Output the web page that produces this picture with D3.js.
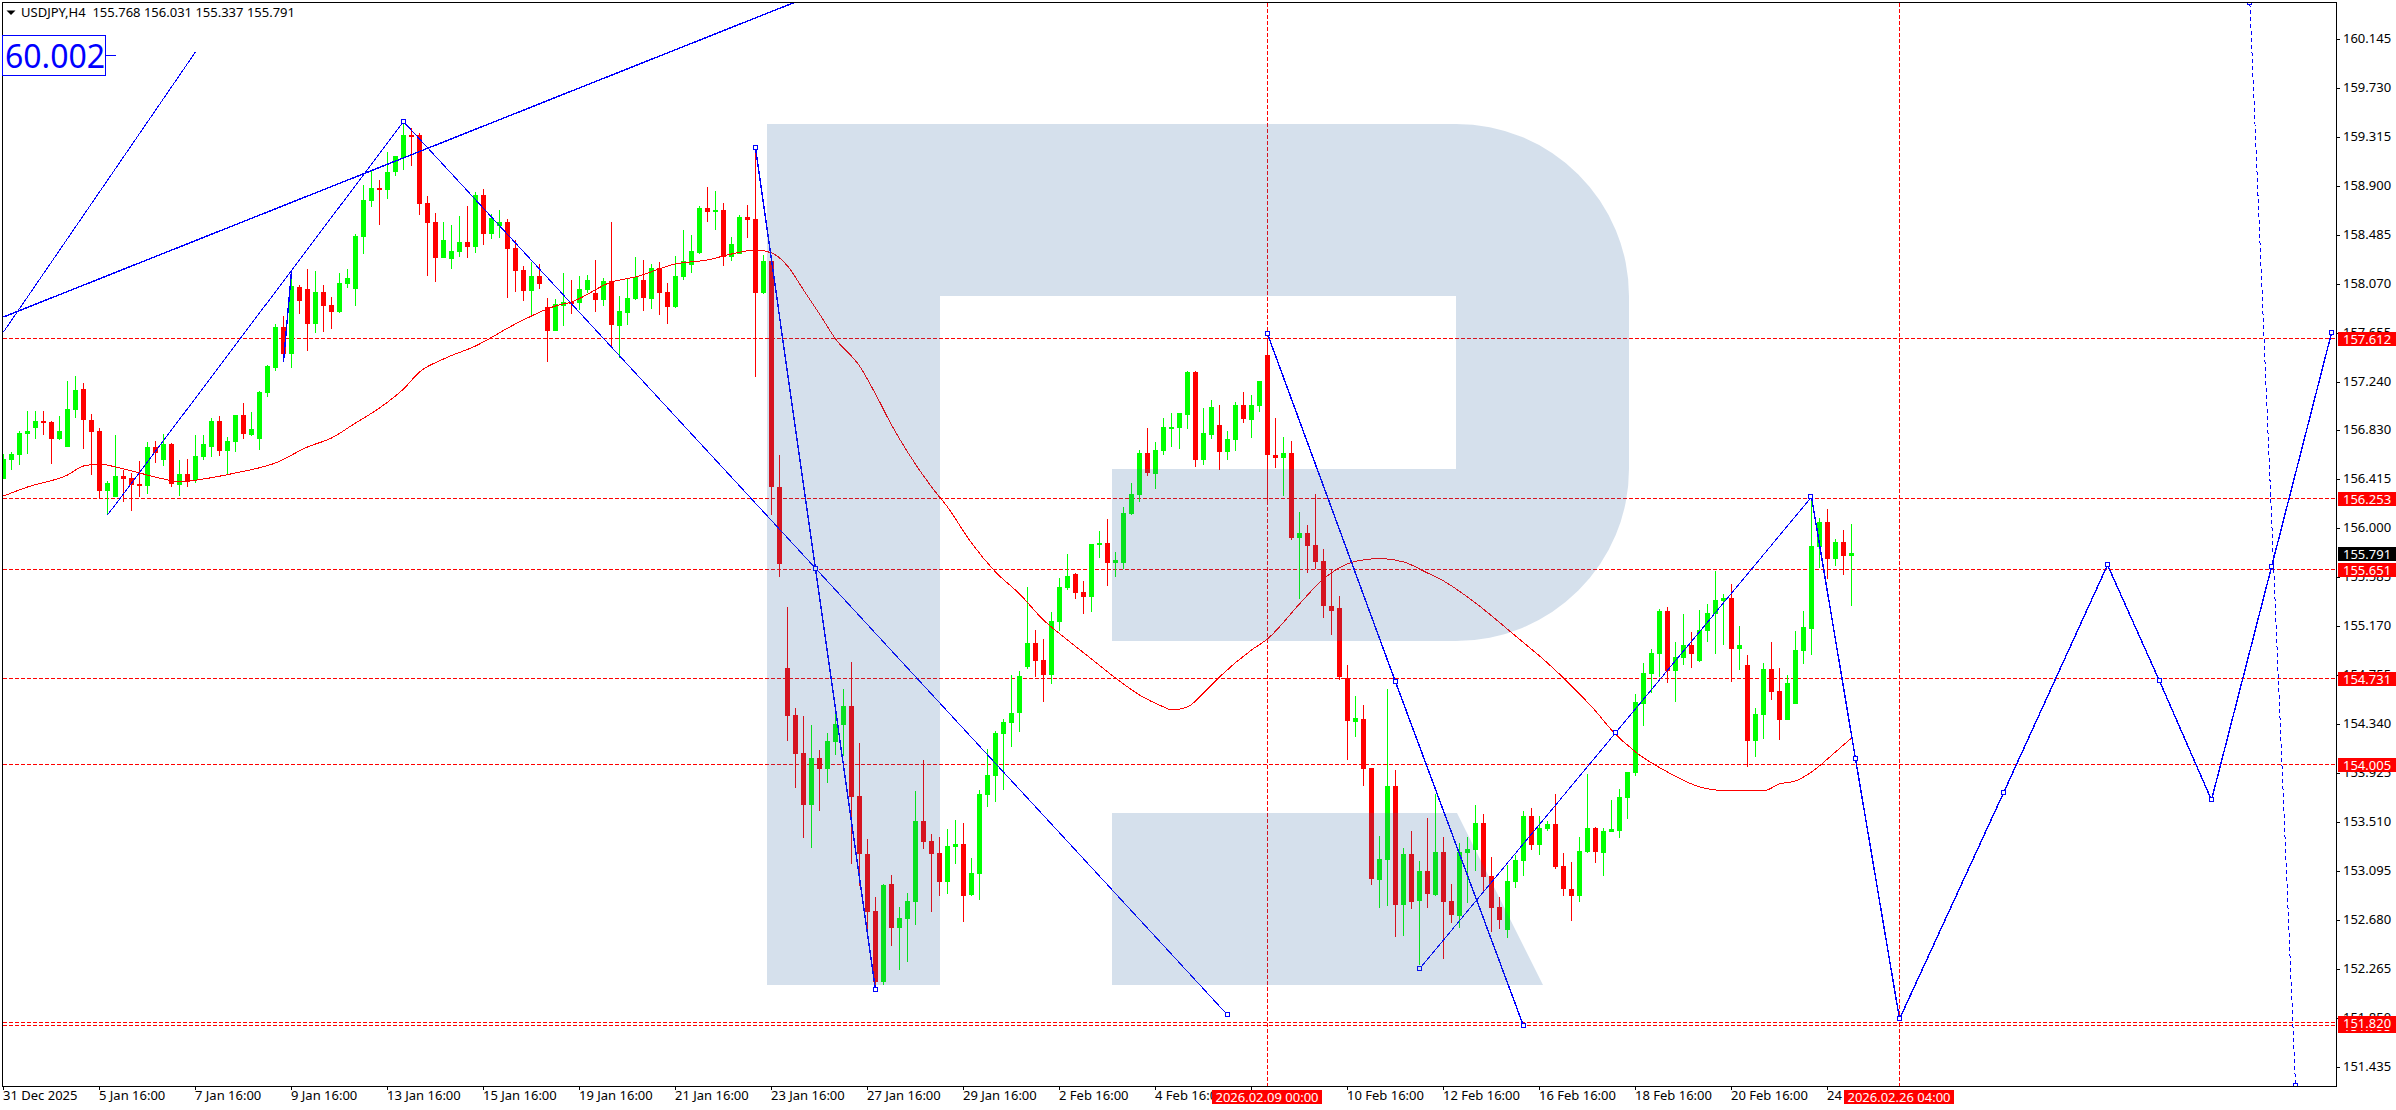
<!DOCTYPE html>
<html><head><meta charset="utf-8">
<script src="https://cdn.jsdelivr.net/npm/d3@7"></script>
<style>html,body{margin:0;padding:0;background:#fff;overflow:hidden}svg{display:block}text{font-family:"Noto Sans",sans-serif;font-size:13px}</style>
</head><body><svg id="c" width="2396" height="1110"></svg>
<script>
const symbolHeader = "USDJPY,H4  155.768 156.031 155.337 155.791";
const opens = [156.417,156.580,156.620,156.798,156.848,156.908,156.899,156.755,156.687,157.001,
157.179,156.916,156.823,156.315,156.264,156.442,156.425,156.374,156.357,156.687,
156.577,156.713,156.366,156.459,156.408,156.603,156.687,156.908,156.654,156.730,
156.958,156.789,156.755,157.145,157.356,157.703,157.474,158.041,158.025,157.728,
157.999,157.889,157.830,158.067,158.025,158.465,158.770,158.880,158.863,159.015,
159.134,159.328,159.328,158.753,158.592,158.287,158.279,158.338,158.422,158.380,
158.820,158.490,158.558,158.592,158.372,158.185,158.008,158.135,157.872,157.669,
157.881,157.915,157.906,158.016,157.991,157.931,158.092,157.711,157.821,157.940,
158.101,157.940,158.202,157.999,157.872,158.126,158.228,158.329,158.710,158.676,
158.693,158.296,158.321,158.634,158.617,157.991,158.262,156.349,154.815,154.417,
154.096,153.655,154.053,153.960,154.189,154.333,154.494,153.732,153.241,152.758,
152.157,152.987,152.614,152.690,152.834,153.520,153.351,153.249,153.004,153.300,
153.325,152.894,153.071,153.740,153.901,154.257,154.350,154.434,154.824,155.027,
154.884,154.757,155.205,155.494,155.612,155.460,155.418,155.858,155.875,155.705,
155.705,156.120,156.281,156.637,156.459,156.654,156.848,156.848,156.958,157.322,
156.577,156.789,156.874,156.645,156.747,157.043,156.916,157.035,157.466,156.620,
156.594,156.637,155.917,155.959,155.858,155.722,155.341,155.324,154.731,154.358,
154.384,153.969,153.021,153.190,153.817,152.809,153.241,152.843,153.097,152.894,
153.258,152.843,152.716,153.249,153.275,153.503,153.055,152.792,152.597,153.004,
153.182,153.563,153.317,153.453,153.495,153.139,152.945,152.885,153.258,153.461,
153.249,153.427,153.436,153.715,153.927,154.511,154.765,154.934,155.298,154.790,
154.900,155.010,154.875,155.129,155.273,155.383,155.408,154.977,154.841,154.198,
154.418,154.807,154.621,154.375,154.511,154.960,155.146,155.840,156.052,155.739,
155.882,155.768];
const closes = [156.586,156.628,156.806,156.823,156.908,156.891,156.755,156.823,157.009,157.170,
156.916,156.814,156.315,156.383,156.442,156.417,156.366,156.357,156.687,156.637,
156.713,156.374,156.459,156.391,156.611,156.713,156.908,156.654,156.738,156.958,
156.798,156.840,157.153,157.373,157.703,157.474,158.050,157.923,157.728,157.999,
157.881,157.830,158.075,158.118,158.473,158.778,158.880,158.863,159.015,159.151,
159.328,159.320,158.744,158.583,158.287,158.439,158.346,158.422,158.380,158.820,
158.490,158.626,158.592,158.363,158.177,158.008,158.135,158.067,157.669,157.898,
157.915,157.898,158.025,158.101,157.931,158.092,157.720,157.838,157.948,158.126,
157.948,158.202,157.991,157.872,158.135,158.262,158.346,158.710,158.676,158.693,
158.296,158.406,158.634,158.609,157.991,158.262,156.349,155.697,154.409,154.087,
153.655,154.053,153.960,154.197,154.341,154.494,153.723,153.241,152.750,152.157,
152.978,152.614,152.699,152.843,153.520,153.342,153.241,153.004,153.308,153.325,
152.885,153.080,153.749,153.909,154.265,154.358,154.434,154.748,155.027,154.875,
154.757,155.214,155.502,155.595,155.451,155.418,155.866,155.875,155.705,155.731,
156.129,156.290,156.637,156.467,156.662,156.857,156.857,156.975,157.322,156.577,
156.806,157.026,156.645,156.755,157.043,156.925,157.043,157.246,156.620,156.594,
156.637,155.917,155.959,155.849,155.714,155.341,155.299,154.740,154.367,154.392,
153.961,153.029,153.199,153.817,152.809,153.241,152.835,153.097,152.902,153.258,
152.835,152.725,153.258,153.283,153.503,153.046,152.784,152.682,153.012,153.190,
153.563,153.317,153.461,153.495,153.131,152.945,152.885,153.266,153.461,153.258,
153.436,153.453,153.723,153.935,154.528,154.773,154.943,155.298,154.790,154.909,
155.010,154.934,155.137,155.281,155.391,155.408,154.977,155.010,154.198,154.426,
154.807,154.613,154.375,154.689,154.968,155.163,155.849,156.052,155.739,155.882,
155.764,155.791];
const highs = [156.628,156.645,156.823,156.992,156.992,156.992,156.908,156.950,157.246,157.289,
157.229,156.967,156.848,156.400,156.789,156.493,156.467,156.569,156.730,156.738,
156.798,156.721,156.577,156.586,156.789,156.789,156.933,156.950,156.772,156.958,
157.060,156.984,157.162,157.382,157.728,157.796,158.185,158.058,158.194,158.177,
158.058,157.957,158.160,158.194,158.490,158.905,159.032,158.947,159.184,159.151,
159.421,159.388,159.345,158.812,158.668,158.592,158.566,158.643,158.727,158.846,
158.871,158.660,158.693,158.617,158.439,158.219,158.253,158.236,157.948,157.940,
158.160,158.101,158.135,158.143,158.270,158.118,158.592,157.965,158.109,158.296,
158.270,158.236,158.253,158.075,158.304,158.524,158.482,158.727,158.888,158.854,
158.753,158.465,158.651,158.736,159.190,158.313,158.262,156.620,155.332,154.477,
154.409,154.333,154.121,154.265,154.434,154.638,154.866,154.180,153.368,152.877,
152.987,153.063,152.792,152.910,153.774,154.036,153.410,153.385,153.452,153.528,
153.503,153.207,153.782,154.130,154.282,154.384,154.756,154.790,155.501,155.137,
155.062,155.290,155.580,155.782,155.621,155.553,155.866,155.976,156.078,155.799,
156.179,156.383,156.662,156.848,156.730,156.933,156.975,156.975,157.331,157.331,
157.018,157.085,157.043,156.823,157.068,157.153,157.128,157.246,157.610,156.933,
156.772,156.738,156.137,156.027,156.290,155.824,155.646,155.426,154.841,154.579,
154.502,153.969,153.393,154.638,153.952,153.292,153.436,153.182,153.546,153.749,
153.385,152.987,153.334,153.385,153.656,153.580,153.215,152.877,153.148,153.232,
153.605,153.630,153.563,153.520,153.749,153.249,153.173,153.385,153.918,153.470,
153.461,153.698,153.791,153.935,154.596,154.858,154.977,155.315,155.332,155.036,
155.273,155.121,155.307,155.358,155.637,155.442,155.527,155.171,154.926,154.477,
154.858,155.036,154.816,154.756,155.129,155.298,156.266,156.086,156.162,155.908,
155.984,156.031];
const lows = [156.417,156.493,156.535,156.628,156.755,156.789,156.544,156.747,156.687,156.933,
156.671,156.450,156.247,156.109,156.264,156.222,156.146,156.264,156.290,156.552,
156.527,156.349,156.273,156.349,156.383,156.577,156.603,156.611,156.450,156.645,
156.755,156.781,156.662,157.111,157.330,157.415,157.356,157.813,157.500,157.652,
157.661,157.686,157.821,158.033,157.881,158.321,158.719,158.566,158.787,158.981,
159.032,159.066,158.651,158.135,158.084,158.287,158.194,158.296,158.287,158.329,
158.397,158.448,158.456,157.948,157.999,157.923,157.804,158.025,157.407,157.669,
157.711,157.813,157.847,157.991,157.830,157.881,157.534,157.440,157.720,157.931,
157.838,157.855,157.804,157.728,157.864,158.101,158.160,158.321,158.592,158.524,
158.219,158.262,158.321,158.456,157.280,157.983,156.112,155.587,154.197,153.799,
153.376,153.291,153.605,153.842,154.079,154.070,153.156,152.970,152.597,152.103,
152.132,152.462,152.259,152.326,152.640,153.283,152.750,152.885,152.902,153.156,
152.665,152.885,152.851,153.639,153.681,153.782,154.147,154.273,154.807,154.739,
154.528,154.681,155.129,155.477,155.401,155.274,155.291,155.748,155.511,155.587,
155.655,156.112,156.222,156.442,156.332,156.620,156.687,156.671,156.840,156.518,
156.535,156.755,156.493,156.577,156.654,156.891,156.764,156.984,156.196,156.510,
156.273,155.900,155.400,155.621,155.655,155.239,155.095,154.714,154.037,154.231,
153.817,152.978,152.784,152.801,152.538,152.547,152.775,152.301,152.784,152.885,
152.352,152.657,152.614,152.826,153.097,152.911,152.581,152.606,152.530,152.953,
153.055,153.275,153.232,153.436,153.114,152.885,152.674,152.835,153.249,153.165,
153.055,153.427,153.376,153.537,153.901,154.325,154.604,154.740,154.689,154.528,
154.841,154.816,154.867,155.036,154.934,155.010,154.697,154.799,153.978,154.062,
154.215,154.545,154.206,154.375,154.511,154.850,154.926,155.662,155.569,155.679,
155.603,155.337];
const maBars = [0,3,8,10,12,14,17,20,22,25,29,34,38,41,44,47,50,52,55,59,64,69,71,76,79,84,88,91,94,96,98,100,102,104,107,109,111,113,116,118,121,124,127,130,133,136,139,142,145,146,148,150,152,156,158,162,165,168,171,172,175,178,180,184,189,193,196,199,201,204,208,212,214,216,220,222,224,226,229,231];
const maValues = [156.272,156.348,156.450,156.526,156.543,156.518,156.467,156.416,156.391,156.416,156.467,156.552,156.687,156.763,156.890,157.017,157.178,157.322,157.432,157.542,157.729,157.881,157.915,158.084,158.127,158.237,158.271,158.321,158.355,158.330,158.220,158.017,157.813,157.602,157.373,157.136,156.874,156.645,156.349,156.179,155.874,155.629,155.443,155.222,155.053,154.892,154.731,154.587,154.486,154.460,154.486,154.604,154.740,154.968,155.062,155.358,155.570,155.697,155.739,155.743,155.714,155.620,155.553,155.366,155.087,154.858,154.664,154.452,154.291,154.105,153.935,153.809,153.783,153.775,153.775,153.834,153.859,153.935,154.105,154.223];
const levels = [157.612,156.253,155.651,154.731,154.005,151.820];
const lowerLevel = 151.795;
const currentPrice = 155.791;
const priceTicks = [160.145,159.730,159.315,158.900,158.485,158.070,157.655,157.240,156.830,156.415,156.000,155.585,155.170,154.755,154.340,153.925,153.510,153.095,152.680,152.265,151.850,151.435];
const timeTickBars = [0,12,24,36,48,60,72,84,96,108,120,132,144,156,168,180,192,204,216,228];
const timeTickLabels = ["31 Dec 2025","5 Jan 16:00","7 Jan 16:00","9 Jan 16:00","13 Jan 16:00","15 Jan 16:00","19 Jan 16:00","21 Jan 16:00","23 Jan 16:00","27 Jan 16:00","29 Jan 16:00","2 Feb 16:00","4 Feb 16:00","","10 Feb 16:00","12 Feb 16:00","16 Feb 16:00","18 Feb 16:00","20 Feb 16:00","24 Feb 16:00"];
const timeMarkerBars = [158,237];
const timeMarkerLabels = ["2026.02.09 00:00","2026.02.26 04:00"];
const ghostFan = {bars:[0,24],prices:[157.661,160.032]};
const trendLine = {bars:[0,99],prices:[157.788,160.455]};
const waveThinA = {bars:[13,50,153],prices:[156.111,159.442,151.878],marks:[1,2]};
const waveStub = {bars:[35,36],prices:[157.407,158.177],marks:[]};
const waveThickA = {bars:[94,101.5,109],prices:[159.219,155.654,152.090],marks:[0,1,2]};
const waveThickB = {bars:[158,174,190],prices:[157.644,154.698,151.785],marks:[0,1,2]};
const waveThinB = {bars:[177,201.5,226],prices:[152.268,154.266,156.264],marks:[0,1,2]};
const waveForecast = {bars:[226,231.5,237,250,263,269.5,276,283.5,291],prices:[156.264,154.046,151.844,153.758,155.688,154.706,153.698,155.671,157.652],marks:[0,1,2,3,4,5,6,7,8]};
const waveDashed = {bars:[280.8,286.5],prices:[160.447,151.277],marks:[0,1]};
const boxLabel = "60.002";

const W=2336,B=1086;
const svg=d3.select("#c");
const x=d3.scaleLinear().domain([0,231]).range([3.5,1851.5]);
const y=d3.scaleLinear().domain([160.145,151.435]).range([38.6,1067.25]);
const px=v=>Math.round(y(v));
svg.append("defs").append("clipPath").attr("id","plot").append("rect").attr("x",3).attr("y",3).attr("width",W-3).attr("height",B-3);
const plot=svg.append("g").attr("clip-path","url(#plot)");

// red levels
const dash="4,2";
plot.append("g").selectAll("line").data(levels.concat([lowerLevel])).join("line")
 .attr("x1",3).attr("x2",W).attr("y1",d=>px(d)+.5).attr("y2",d=>px(d)+.5)
 .attr("stroke","#ff0000").attr("stroke-dasharray",dash).attr("shape-rendering","crispEdges");
plot.append("g").selectAll("line").data(timeMarkerBars).join("line")
 .attr("x1",d=>x(d)).attr("x2",d=>x(d)).attr("y1",3).attr("y2",B)
 .attr("stroke","#ff0000").attr("stroke-dasharray",dash).attr("shape-rendering","crispEdges");

// candles
const idx=d3.range(opens.length);
const col=i=>closes[i]>=opens[i]?"#00ff00":"#ff0000";
const g=plot.append("g").attr("shape-rendering","crispEdges");
g.selectAll(".w").data(idx).join("rect").attr("x",i=>x(i)-.5).attr("width",1)
 .attr("y",i=>px(highs[i])).attr("height",i=>Math.max(1,px(lows[i])-px(highs[i]))).attr("fill",col);
g.selectAll(".b").data(idx).join("rect").attr("class","b").attr("x",i=>x(i)-2.5).attr("width",5)
 .attr("y",i=>px(Math.max(opens[i],closes[i])))
 .attr("height",i=>Math.max(2,px(Math.min(opens[i],closes[i]))-px(Math.max(opens[i],closes[i]))))
 .attr("fill",col);

// moving average
plot.append("path").datum(maBars).attr("fill","none").attr("stroke","#ff0000").attr("stroke-width",1)
 .attr("shape-rendering","crispEdges")
 .attr("d",d3.line().x(k=>x(k)).y((k,i)=>y(maValues[i])).curve(d3.curveMonotoneX));

// blue studies
function poly(o,w,dashed){
 const l=d3.line().x((k)=>x(k)).y((k,i)=>y(o.prices[i]));
 plot.append("path").datum(o.bars).attr("fill","none").attr("stroke","#0000ff").attr("stroke-width",w)
  .attr("shape-rendering","crispEdges")
  .attr("stroke-dasharray",dashed?"4,3":null).attr("d",l);
 (o.marks||[]).forEach(i=>{
  plot.append("rect").attr("x",Math.round(x(o.bars[i]))-2.5).attr("y",Math.round(y(o.prices[i]))-2.5)
   .attr("width",4).attr("height",4).attr("fill","#fff").attr("stroke","#0000ff").attr("shape-rendering","crispEdges");
 });
}
poly(ghostFan,1);poly(trendLine,1.4);poly(waveThinA,1);poly(waveStub,1.4);
poly(waveThickA,1.4);poly(waveThickB,1.4);poly(waveThinB,1);poly(waveForecast,1.4);poly(waveDashed,1,true);

// R watermark, painted over the chart with transparency
plot.append("path").attr("fill","rgb(45,100,160)").attr("fill-opacity",0.2)
 .attr("fill-rule","evenodd")
 .attr("d","M767,124H1456A173,172 0 0 1 1629,296V469A173,172 0 0 1 1456,641H1112V469H1456V296H940V985H767Z");
plot.append("path").attr("fill","rgb(45,100,160)").attr("fill-opacity",0.2)
 .attr("d","M1112,813H1457L1543,985H1112Z");

// frame
svg.append("rect").attr("x",2.5).attr("y",2.5).attr("width",W-2).attr("height",B-2)
 .attr("fill","none").attr("stroke","#000").attr("shape-rendering","crispEdges");

// price axis
const pa=svg.append("g");
pa.selectAll("line").data(priceTicks).join("line").attr("x1",W).attr("x2",W+4)
 .attr("y1",d=>px(d)+.5).attr("y2",d=>px(d)+.5).attr("stroke","#000").attr("shape-rendering","crispEdges");
pa.selectAll("text").data(priceTicks).join("text").attr("x",2343).attr("y",d=>px(d)+4)
 .attr("fill","#000").text(d=>d.toFixed(3));

// time axis
const ta=svg.append("g");
ta.selectAll("line").data(timeTickBars).join("line").attr("x1",d=>Math.floor(x(d))+.5).attr("x2",d=>Math.floor(x(d))+.5)
 .attr("y1",B).attr("y2",B+4).attr("stroke","#000").attr("shape-rendering","crispEdges");
ta.selectAll("text").data(timeTickLabels).join("text").attr("x",(d,i)=>x(timeTickBars[i])-.5).attr("y",1100)
 .attr("fill","#000").text(d=>d);

// price tags: the lower level's tag sits under the 151.820 tag
const tags=[{v:lowerLevel,bg:"#ff0000"}].concat(levels.map(v=>({v,bg:"#ff0000"}))).concat([{v:currentPrice,bg:"#000"}]);
const tg=svg.append("g").selectAll("g").data(tags).join("g").attr("transform",d=>`translate(2338,${px(d.v)-6})`);
tg.append("rect").attr("width",58).attr("height",14).attr("fill",d=>d.bg).attr("shape-rendering","crispEdges");
tg.append("text").attr("x",5).attr("y",11.5).attr("fill","#fff").text(d=>d.v.toFixed(3));

// time tags
const tm=svg.append("g").selectAll("g").data(timeMarkerBars).join("g").attr("transform",d=>`translate(${x(d)-55.5},1090)`);
tm.append("rect").attr("width",110).attr("height",14).attr("fill","#ff0000").attr("shape-rendering","crispEdges");
tm.append("text").attr("x",55).attr("y",11.5).attr("text-anchor","middle").attr("fill","#fff").text((d,i)=>timeMarkerLabels[i]);

// header
svg.append("path").attr("d","M6.5,10.5H15.5L11,15Z").attr("fill","#000");
svg.append("text").attr("x",21).attr("y",17).attr("fill","#000").attr("xml:space","preserve").style("white-space","pre").text(symbolHeader);

// box object
svg.append("line").attr("x1",105).attr("x2",116).attr("y1",55.5).attr("y2",55.5).attr("stroke","#0000ff").attr("shape-rendering","crispEdges");
svg.append("rect").attr("x",2.5).attr("y",35.5).attr("width",103).attr("height",40).attr("fill","#fff").attr("stroke","#0000ff").attr("shape-rendering","crispEdges");
svg.append("text").attr("x",5).attr("y",68).attr("fill","#0000ff").style("font-size","32px").text(boxLabel);
</script></body></html>
